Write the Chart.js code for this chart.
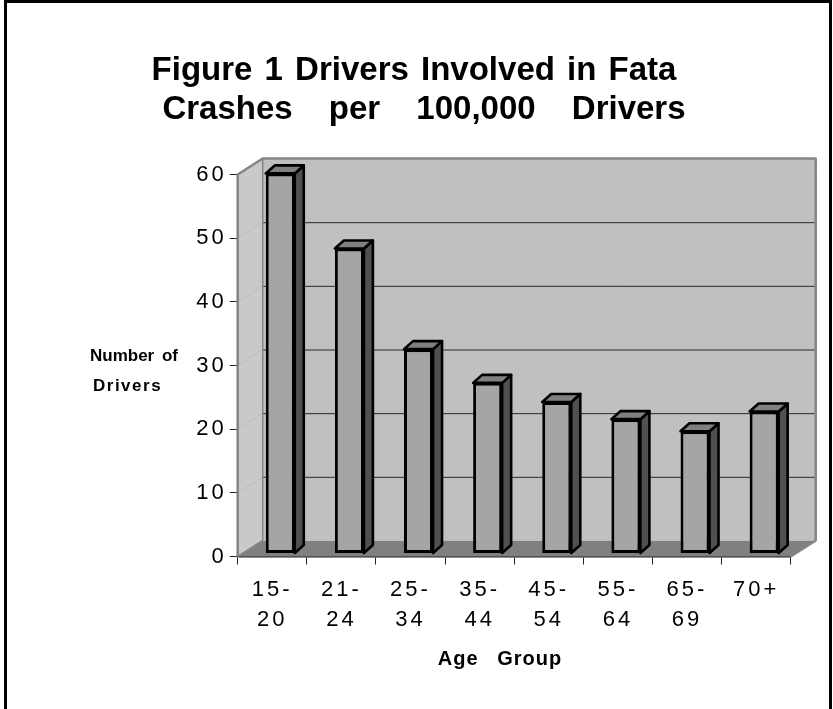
<!DOCTYPE html>
<html lang="en">
  <head>
    <meta charset="UTF-8" />
    <title>Figure 1 Drivers Involved in Fatal Crashes</title>
    <style>
      html,
      body {
        margin: 0;
        padding: 0;
        background: #ffffff;
      }
      .chart-box {
        position: relative;
        width: 833px;
        height: 709px;
      }
    </style>
  </head>
  <body>
    <div class="chart-box"><canvas id="crashChart"></canvas></div>

    <script src="https://cdn.jsdelivr.net/npm/chart.js"></script>
    <script>
      // data
      const ageGroups = [
        ["15-", "20"],
        ["21-", "24"],
        ["25-", "34"],
        ["35-", "44"],
        ["45-", "54"],
        ["55-", "64"],
        ["65-", "69"],
        "70+",
      ];
      const driversPer100k = [59.7, 47.9, 32.1, 26.8, 23.8, 21.1, 19.2, 22.3];
      const yMin = 0;
      const yMax = 60;
      const yStep = 10;

      const titleLines = ["Figure 1 Drivers Involved in Fata", "Crashes per 100,000 Drivers"];
      const yTitleLines = ["Number of", "Drivers"];
      const xTitle = "Age Group";

      // fake 3d depth (old spreadsheet look)
      const wallDx = 25;
      const wallDy = -16;
      const barDx = 9;
      const barDy = -8;
      const barShiftX = 8;
      const barShiftY = -3;

      const FONT = "'Liberation Sans', Arial, Helvetica, sans-serif";

      function poly(ctx, pts) {
        ctx.beginPath();
        ctx.moveTo(pts[0][0], pts[0][1]);
        for (let i = 1; i < pts.length; i++) ctx.lineTo(pts[i][0], pts[i][1]);
        ctx.closePath();
      }

      const fake3d = {
        id: "fake3d",
        beforeDraw(chart) {
          chart.ctx.letterSpacing = "3px";
        },
        beforeDatasetsDraw(chart) {
          const { ctx, chartArea: a } = chart;
          const yScale = chart.scales.y;
          ctx.save();
          ctx.lineJoin = "round";

          // floor
          ctx.fillStyle = "#808080";
          poly(ctx, [
            [a.left, a.bottom],
            [a.right, a.bottom],
            [a.right + wallDx, a.bottom + wallDy],
            [a.left + wallDx, a.bottom + wallDy],
          ]);
          ctx.fill();

          // back wall
          ctx.fillStyle = "#c0c0c0";
          ctx.fillRect(a.left + wallDx, a.top + wallDy, a.right - a.left, a.bottom - a.top);

          // left wall
          ctx.fillStyle = "#c9c9c9";
          poly(ctx, [
            [a.left, a.bottom],
            [a.left, a.top],
            [a.left + wallDx, a.top + wallDy],
            [a.left + wallDx, a.bottom + wallDy],
          ]);
          ctx.fill();

          // grid lines on back wall, faint ones on the side wall
          yScale.ticks.forEach((t) => {
            if (t.value <= yMin || t.value >= yMax) return;
            const py = yScale.getPixelForValue(t.value);
            ctx.strokeStyle = "#bcbcbc";
            ctx.lineWidth = 1;
            ctx.beginPath();
            ctx.moveTo(a.left, py);
            ctx.lineTo(a.left + wallDx, py + wallDy);
            ctx.stroke();
            ctx.strokeStyle = "#2a2a2a";
            ctx.beginPath();
            ctx.moveTo(a.left + wallDx, py + wallDy + 0.5);
            ctx.lineTo(a.right + wallDx, py + wallDy + 0.5);
            ctx.stroke();
          });

          // wall outlines
          ctx.strokeStyle = "#858585";
          ctx.lineWidth = 2.5;
          ctx.beginPath();
          ctx.moveTo(a.left, a.bottom);
          ctx.lineTo(a.left, a.top);
          ctx.lineTo(a.left + wallDx, a.top + wallDy);
          ctx.lineTo(a.right + wallDx, a.top + wallDy);
          ctx.lineTo(a.right + wallDx, a.bottom + wallDy);
          ctx.lineTo(a.right, a.bottom);
          ctx.stroke();
          ctx.lineWidth = 1.5;
          ctx.beginPath();
          ctx.moveTo(a.left + wallDx, a.top + wallDy);
          ctx.lineTo(a.left + wallDx, a.bottom + wallDy);
          ctx.lineTo(a.left, a.bottom);
          ctx.stroke();
          ctx.restore();

          // bars sit a little back from the front edge
          ctx.save();
          ctx.translate(barShiftX, barShiftY);
        },
        afterDatasetsDraw(chart) {
          const ctx = chart.ctx;
          const meta = chart.getDatasetMeta(0);
          ctx.lineJoin = "round";
          ctx.lineWidth = 2.6;
          ctx.strokeStyle = "#000000";
          meta.data.forEach((bar) => {
            const { x, y, base, width } = bar.getProps(["x", "y", "base", "width"], true);
            const l = x - width / 2;
            const r = x + width / 2;
            ctx.fillStyle = "#505050";
            poly(ctx, [
              [r, y],
              [r + barDx, y + barDy],
              [r + barDx, base + barDy],
              [r, base],
            ]);
            ctx.fill();
            ctx.stroke();
            ctx.fillStyle = "#808080";
            poly(ctx, [
              [l, y],
              [l + barDx, y + barDy],
              [r + barDx, y + barDy],
              [r, y],
            ]);
            ctx.fill();
            ctx.stroke();
          });
          ctx.restore();
        },
        afterDraw(chart) {
          const ctx = chart.ctx;
          ctx.save();
          ctx.fillStyle = "#000000";
          ctx.textBaseline = "middle";

          // main title
          ctx.letterSpacing = "0px";
          ctx.font = "bold 33px " + FONT;
          ctx.textAlign = "center";
          ctx.wordSpacing = "3px";
          ctx.fillText(titleLines[0], 414, 71);
          ctx.wordSpacing = "27px";
          ctx.fillText(titleLines[1], 424, 110);

          // y axis title, horizontal
          ctx.font = "bold 17px " + FONT;
          ctx.textAlign = "left";
          ctx.letterSpacing = "0px";
          ctx.wordSpacing = "3px";
          ctx.fillText(yTitleLines[0], 90, 356);
          ctx.letterSpacing = "1.5px";
          ctx.wordSpacing = "0px";
          ctx.fillText(yTitleLines[1], 93, 386);

          // x axis title
          ctx.font = "bold 20px " + FONT;
          ctx.textAlign = "center";
          ctx.letterSpacing = "1px";
          ctx.wordSpacing = "12px";
          ctx.fillText(xTitle, 500, 659);

          // outer frame
          ctx.strokeStyle = "#000000";
          ctx.lineWidth = 3;
          ctx.beginPath();
          ctx.moveTo(5.5, chart.height + 2);
          ctx.lineTo(5.5, 1.5);
          ctx.lineTo(830.5, 1.5);
          ctx.lineTo(830.5, chart.height + 2);
          ctx.stroke();
          ctx.restore();
        },
      };

      const ctx = document.getElementById("crashChart").getContext("2d");
      new Chart(ctx, {
        type: "bar",
        data: {
          labels: ageGroups,
          datasets: [
            {
              label: "Drivers per 100,000",
              data: driversPer100k,
              backgroundColor: "#a5a5a5",
              borderColor: "#000000",
              borderWidth: 3,
              borderSkipped: false,
              barPercentage: 0.42,
              categoryPercentage: 1,
              clip: false,
            },
          ],
        },
        options: {
          responsive: true,
          maintainAspectRatio: false,
          animation: false,
          events: [],
          layout: {
            padding: { top: 174.5, right: 42.3, bottom: 0, left: 0 },
          },
          plugins: {
            legend: { display: false },
            title: { display: false },
            tooltip: { enabled: false },
          },
          scales: {
            x: {
              afterFit(scale) {
                scale.height = 152.5;
              },
              grid: {
                display: true,
                drawOnChartArea: false,
                drawTicks: true,
                tickLength: 8,
                color: "#222222",
                lineWidth: 1,
              },
              border: { display: true, color: "#222222", width: 1.5 },
              ticks: {
                color: "#000000",
                padding: 11,
                maxRotation: 0,
                autoSkip: false,
                font: { family: FONT, size: 22, lineHeight: 1.35 },
              },
            },
            y: {
              min: yMin,
              max: yMax,
              afterFit(scale) {
                scale.width = 237.7;
              },
              grid: {
                display: true,
                drawOnChartArea: false,
                drawTicks: true,
                tickLength: 8,
                color: "#222222",
                lineWidth: 1,
              },
              border: { display: false },
              ticks: {
                stepSize: yStep,
                color: "#000000",
                padding: 3,
                font: { family: FONT, size: 22 },
              },
            },
          },
        },
        plugins: [fake3d],
      });
    </script>
  </body>
</html>
